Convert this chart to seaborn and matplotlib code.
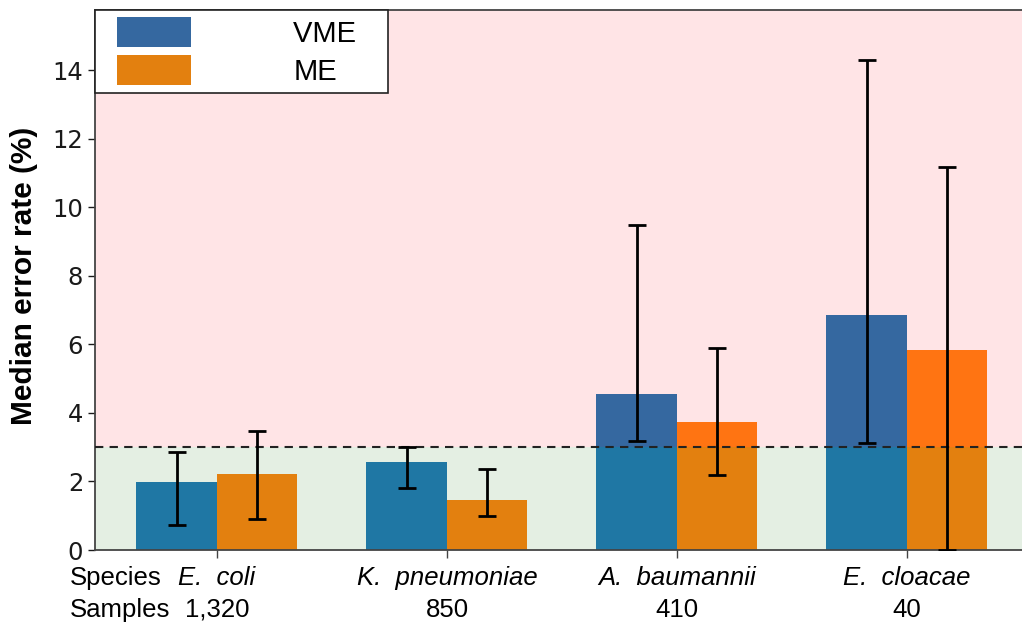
import matplotlib
matplotlib.use("Agg")
import matplotlib.pyplot as plt
import matplotlib.patches as mpatches
from matplotlib.legend_handler import HandlerPatch
import matplotlib.transforms as mtransforms
import numpy as np
import pandas as pd
import seaborn as sns

# ---- data ----
species = ["E.  coli", "K.  pneumoniae", "A.  baumannii", "E.  cloacae"]
samples = ["1,320", "850", "410", "40"]
error_types = ["VME", "ME"]
vme_median = [1.98, 2.56, 4.54, 6.85]
vme_low = [0.73, 1.82, 3.18, 3.11]
vme_high = [2.85, 3.01, 9.48, 14.28]
me_median = [2.21, 1.47, 3.73, 5.83]
me_low = [0.90, 1.00, 2.19, 0.0]
me_high = [3.46, 2.37, 5.90, 11.18]
threshold = 3.0

# colours
vme_upper, vme_lower = "#3568a0", "#1f77a4"
me_upper, me_lower = "#ff7412", "#e3800f"
pink_bg, green_bg = "#ffe4e6", "#e4efe3"

df = pd.DataFrame({
    "species": species * 2,
    "type": ["VME"] * 4 + ["ME"] * 4,
    "value": vme_median + me_median,
})
df["clipped"] = df["value"].clip(upper=threshold)

sns.set_style("white")
fig = plt.figure(figsize=(10.22, 6.24), dpi=100)
ax = fig.add_axes([95 / 1022, 74 / 624, 927 / 1022, 540 / 624])

ymax = 15.75
ax.axhspan(0, threshold, color=green_bg, zorder=0, lw=0)
ax.axhspan(threshold, ymax, color=pink_bg, zorder=0, lw=0)

sns.barplot(data=df, x="species", y="value", hue="type", hue_order=error_types,
            palette=[vme_upper, me_upper], width=0.7, errorbar=None,
            legend=False, ax=ax, zorder=2, saturation=1, linewidth=0, edgecolor="none")
sns.barplot(data=df, x="species", y="clipped", hue="type", hue_order=error_types,
            palette=[vme_lower, me_lower], width=0.7, errorbar=None,
            legend=False, ax=ax, zorder=2, saturation=1, linewidth=0, edgecolor="none")

# error bars at centres of the bars (VME container, ME container)
vme_bars, me_bars = ax.containers[0], ax.containers[1]
for bars, med, lo, hi in [(vme_bars, vme_median, vme_low, vme_high),
                          (me_bars, me_median, me_low, me_high)]:
    xs = [p.get_x() + p.get_width() / 2 for p in bars]
    med = np.array(med); lo = np.array(lo); hi = np.array(hi)
    ax.errorbar(xs, med, yerr=[med - lo, hi - med], fmt="none", ecolor="black",
                elinewidth=2, capsize=6.5, capthick=2, zorder=4)

ax.axhline(threshold, color="#222222", ls=(0, (4, 3)), lw=1.5, zorder=3)

ax.set_xlim(-0.53, 3.5)
ax.set_ylim(0, ymax)
ax.set_yticks(range(0, 15, 2))
ax.tick_params(axis="y", labelsize=17.5, length=5, width=1, colors="#1a1a1a", left=True)
ax.tick_params(axis="x", length=6, width=1, bottom=True, labelbottom=False, colors="#444444")
ax.set_xlabel("")
ax.set_ylabel("Median error rate (%)", fontsize=21.5, fontweight="bold",
              family="Liberation Sans", color="black")
ax.yaxis.set_label_coords(-57 / 927, 0.508)
for lab in ax.get_yticklabels():
    lab.set_family("DejaVu Sans")

for s in ["left", "bottom", "top"]:
    ax.spines[s].set_visible(True)
    ax.spines[s].set_color("#444444")
    ax.spines[s].set_linewidth(1.3)
ax.spines["right"].set_visible(False)

# species / samples rows
trans = mtransforms.blended_transform_factory(ax.transData, ax.transAxes)
for i, (sp, n) in enumerate(zip(species, samples)):
    ax.text(i, -0.065, sp, transform=trans, ha="center", va="baseline",
            fontsize=18.5, style="italic", family="Liberation Sans", color="black")
    ax.text(i, -0.124, n, transform=trans, ha="center", va="baseline",
            fontsize=18.5, family="Liberation Sans", color="black")
ax.text(-25 / 927, -0.065, "Species", transform=ax.transAxes, ha="left", va="baseline",
        fontsize=18.5, family="Liberation Sans", color="black")
ax.text(-25 / 927, -0.124, "Samples", transform=ax.transAxes, ha="left", va="baseline",
        fontsize=18.5, family="Liberation Sans", color="black")

# legend
def make_rect(legend, orig_handle, xdescent, ydescent, width, height, fontsize):
    return mpatches.Rectangle((-xdescent + 0.17 * width, -ydescent), 0.83 * width, height)

handles = [mpatches.Patch(facecolor=vme_upper, edgecolor="none"),
           mpatches.Patch(facecolor=me_lower, edgecolor="none")]
leg = ax.legend(handles, ["VME   ", "ME"], loc="upper left", bbox_to_anchor=(0, 1),
                borderaxespad=0, frameon=True, fancybox=False, framealpha=1,
                edgecolor="#222222", prop={"family": "Liberation Sans", "size": 21},
                handlelength=3.05, handleheight=1.2, handletextpad=3.5,
                labelspacing=0.25, borderpad=0.25,
                handler_map={mpatches.Patch: HandlerPatch(patch_func=make_rect)})
for t in leg.get_texts():
    t.set_color("black")
leg.get_frame().set_linewidth(1.2)
leg.set_zorder(5)

fig.savefig("out.png", dpi=100)
